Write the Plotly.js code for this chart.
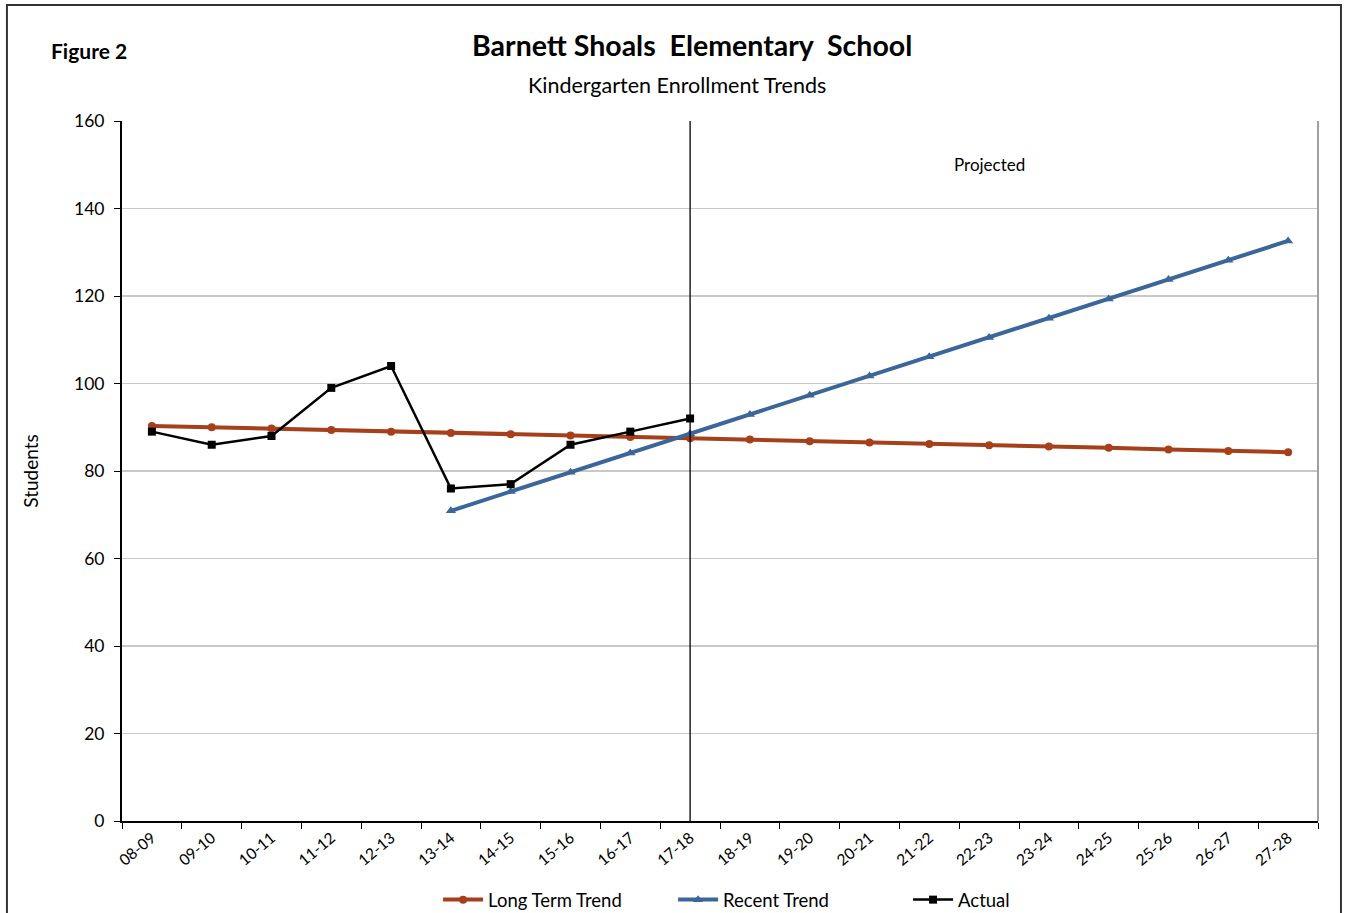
<!DOCTYPE html>
<html>
<head>
<meta charset="utf-8">
<script src="https://cdn.plot.ly/plotly-3.0.1.min.js"></script>
<style>
html,body{margin:0;padding:0;background:#fff;}
#chart{width:1353px;height:913px;}
</style>
</head>
<body>
<div id="chart"></div>
<script>
const years = ["08-09","09-10","10-11","11-12","12-13","13-14","14-15","15-16","16-17","17-18",
               "18-19","19-20","20-21","21-22","22-23","23-24","24-25","25-26","26-27","27-28"];
const longTermTrend = [90.3,90.0,89.7,89.4,89.0,88.7,88.4,88.1,87.8,87.5,
                       87.2,86.8,86.5,86.2,85.9,85.6,85.3,84.9,84.6,84.3];
const recentYears = ["13-14","14-15","15-16","16-17","17-18","18-19","19-20","20-21",
                     "21-22","22-23","23-24","24-25","25-26","26-27","27-28"];
const recentTrend = [70.9,75.3,79.7,84.1,88.5,92.9,97.3,101.7,106.1,110.5,114.9,119.3,123.8,128.2,132.6];
const actualYears = ["08-09","09-10","10-11","11-12","12-13","13-14","14-15","15-16","16-17","17-18"];
const actual = [89,86,88,99,104,76,77,86,89,92];
const projectionStart = "17-18";
const projectedLabelAt = "22-23";

const FONT = "Lato, 'Open Sans', sans-serif";

const traces = [
  {x: years, y: longTermTrend, name: "Long Term Trend", type: "scatter", mode: "lines+markers",
   line: {color: "#A5401B", width: 4}, marker: {symbol: "circle", size: 8, color: "#A5401B"}},
  {x: recentYears, y: recentTrend, name: "Recent Trend", type: "scatter", mode: "lines+markers",
   line: {color: "#3B6699", width: 4}, marker: {symbol: "triangle-up", size: 9, color: "#3B6699"}},
  {x: actualYears, y: actual, name: "Actual", type: "scatter", mode: "lines+markers",
   line: {color: "#000000", width: 2.5}, marker: {symbol: "square", size: 8, color: "#000000"}}
];

const layout = {
  width: 1353, height: 913,
  margin: {l: 122, r: 35, t: 121, b: 92, autoexpand: false},
  paper_bgcolor: "#fff", plot_bgcolor: "#fff",
  font: {family: FONT, size: 15, color: "#000"},
  showlegend: true,
  legend: {orientation: "h", x: 0.559, xanchor: "center", y: -0.113, yanchor: "middle",
           font: {family: FONT, size: 18.5, color: "#000"}, itemwidth: 40, traceorder: "normal",
           entrywidth: 180, entrywidthmode: "pixels"},
  xaxis: {type: "category", categoryorder: "array", categoryarray: years, automargin: false,
          range: [-0.5, 19.5], tickson: "boundaries", ticks: "outside", ticklen: 6,
          tickcolor: "#000", tickangle: -40, showline: true, linecolor: "#000", linewidth: 2,
          showgrid: false, zeroline: false, tickfont: {family: FONT, size: 15.5, color: "#000"}},
  yaxis: {range: [0, 160], dtick: 20, ticks: "outside", ticklen: 6, tickcolor: "#000", automargin: false,
          showline: true, linecolor: "#000", linewidth: 2, showgrid: true, gridcolor: "#c8c8c8",
          gridwidth: 1.3, zeroline: false, tickfont: {family: FONT, size: 17.5, color: "#000"},
          ticklabelstandoff: 6,
          title: {text: "Students", font: {family: FONT, size: 19, color: "#000"}, standoff: 30}},
  shapes: [
    {type: "line", xref: "x", yref: "y", x0: projectionStart, x1: projectionStart, y0: 0, y1: 160,
     line: {color: "#000", width: 1.3}},
    {type: "line", xref: "paper", yref: "paper", x0: 1, x1: 1, y0: 0, y1: 1,
     line: {color: "#a0a0a0", width: 2}},
    {type: "rect", xref: "paper", yref: "paper", x0: -0.0962, x1: 1.0192, y0: -0.2, y1: 1.1657,
     line: {color: "#333", width: 2}, fillcolor: "rgba(0,0,0,0)", layer: "below"}
  ],
  annotations: [
    {text: "<b>Barnett Shoals  Elementary  School</b>", xref: "paper", yref: "paper",
     x: 0.477, y: 1.1085, xanchor: "center", yanchor: "middle", showarrow: false,
     font: {family: FONT, size: 28.5, color: "#000"}},
    {text: "Kindergarten Enrollment Trends", xref: "paper", yref: "paper",
     x: 0.464, y: 1.0514, xanchor: "center", yanchor: "middle", showarrow: false,
     font: {family: FONT, size: 21.5, color: "#000"}},
    {text: "<b>Figure 2</b>", xref: "paper", yref: "paper",
     x: -0.0609, y: 1.1014, xanchor: "left", yanchor: "middle", showarrow: false,
     font: {family: FONT, size: 21, color: "#000"}},
    {text: "Projected", xref: "x", yref: "y", x: projectedLabelAt, y: 150,
     xanchor: "center", yanchor: "middle", showarrow: false,
     font: {family: FONT, size: 17, color: "#000"}}
  ]
};

Plotly.newPlot("chart", traces, layout, {displayModeBar: false, staticPlot: true});
</script>
</body>
</html>
